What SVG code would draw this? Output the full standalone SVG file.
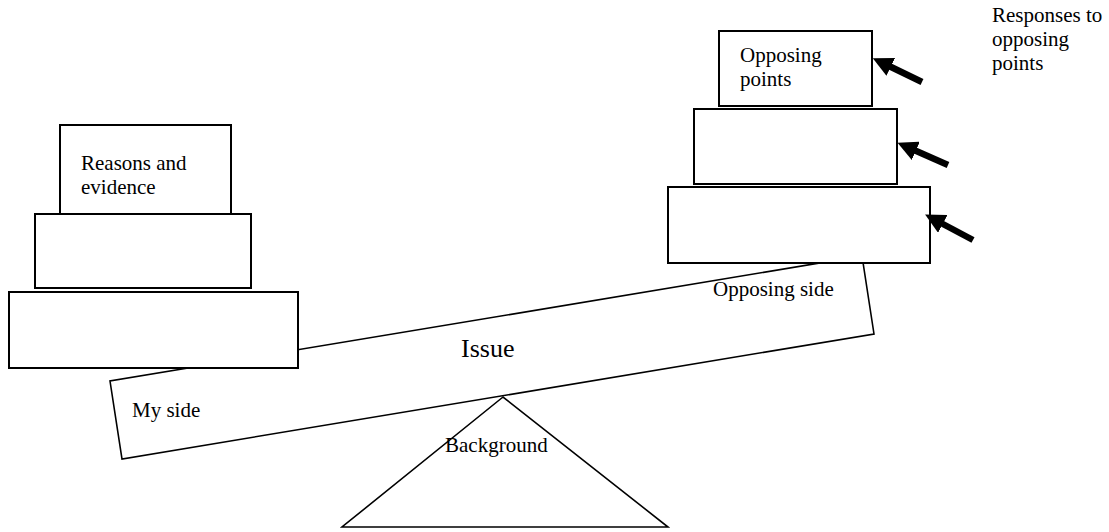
<svg xmlns="http://www.w3.org/2000/svg" width="1109" height="532" viewBox="0 0 1109 532">
<style>
.box{fill:#fff;stroke:#000;stroke-width:2}
.thin{fill:#fff;stroke:#000;stroke-width:1.6;stroke-linejoin:miter}
text{font-family:'Liberation Serif','Times New Roman','DejaVu Serif',serif;font-size:21px;fill:#000}
.big{font-size:26px}
.arr{stroke:#000;stroke-width:6.5;fill:none;marker-end:url(#ah)}
</style>
<defs>
<marker id="ah" viewBox="0 0 20 20" markerWidth="20" markerHeight="20" markerUnits="userSpaceOnUse" refX="2" refY="10" orient="auto">
<path d="M0,0 L20,10 L0,20 z" fill="#000"/>
</marker>
</defs>
<g id="beam"><polygon class="thin" points="110,381 122,459 874,334 862,256"/></g>
<g id="fulcrum"><polygon class="thin" points="503,397 342,527 668,527"/></g>
<g id="my-side-bottom"><rect class="box" x="9" y="292" width="289" height="76"/></g>
<g id="my-side-middle"><rect class="box" x="35" y="214" width="216" height="74"/></g>
<g id="my-side-top"><rect class="box" x="60" y="125" width="171" height="89"/></g>
<g id="opp-bottom"><rect class="box" x="668" y="187" width="262" height="76"/></g>
<g id="opp-middle"><rect class="box" x="694" y="109" width="203" height="75"/></g>
<g id="opp-top"><rect class="box" x="719" y="31" width="153" height="75"/></g>
<g id="connectors">
<line class="arr" x1="922" y1="82" x2="889" y2="66"/>
<line class="arr" x1="948" y1="165" x2="914" y2="150"/>
<line class="arr" x1="973" y1="240" x2="941" y2="223"/>
</g>
<g id="labels" font-family="Liberation Serif, serif">
<text x="81" y="170">Reasons and</text>
<text x="81" y="194">evidence</text>
<text x="740" y="62">Opposing</text>
<text x="740" y="86">points</text>
<text x="992" y="22">Responses to</text>
<text x="992" y="46">opposing</text>
<text x="992" y="70">points</text>
<text x="713" y="296">Opposing side</text>
<text class="big" x="461" y="357">Issue</text>
<text x="132" y="417">My side</text>
<text x="445" y="452">Background</text>
</g>
</svg>
